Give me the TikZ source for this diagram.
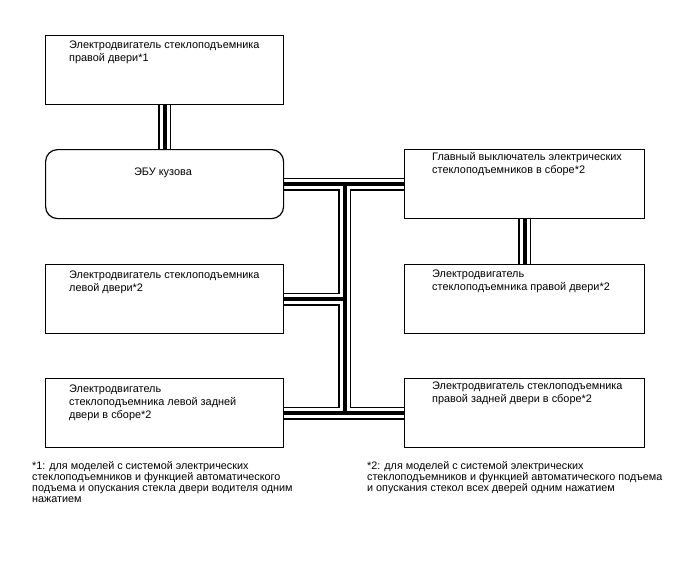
\documentclass[tikz,border=0pt]{standalone}
\usepackage{fontspec}
\setmainfont{Liberation Sans}
\usetikzlibrary{backgrounds}
\tikzset{
  box/.style={draw=black, line width=1.2pt, minimum width=238pt, minimum height=69pt, anchor=north west, inner sep=0pt},
  ecubox/.style={box, rounded corners=12pt},
  txt/.style={anchor=north west, align=left, inner sep=0pt, font=\fontsize{10.9}{13}\selectfont},
  ctxt/.style={anchor=base, inner sep=0pt, font=\fontsize{10.9}{13}\selectfont},
  fn/.style={anchor=north west, align=left, inner sep=0pt, font=\fontsize{10.8}{11.1}\selectfont},
  cableA/.style={draw=black, line width=13pt},
  cableB/.style={draw=white, line width=10pt},
  cableC/.style={draw=black, line width=4pt},
}
\newcommand{\cablenet}[1]{%
  \path[#1] (b1.south) -- (ecu.north);
  \path[#1] (main.south) -- (rdoor.north);
  \path[#1] (ecu.east) -- (main.west);
  \path[#1] (j1) -- (j2);
  \path[#1] (ldoor.east) -- (ldoor.east -| j1);
  \path[#1] (lrear.east) -- (rrear.west);
}
\begin{document}
\begin{tikzpicture}[x=1pt,y=-1pt]
\useasboundingbox (0,0) rectangle (688,560);
% boxes
\node[box] (b1) at (45,35) {};
\node[ecubox] (ecu) at (45,149) {};
\node[box] (ldoor) at (45,264) {};
\node[box] (lrear) at (45,378) {};
\node[box, minimum width=240pt] (main) at (404,149) {};
\node[box, minimum width=240pt] (rdoor) at (404,264) {};
\node[box, minimum width=240pt] (rrear) at (404,378) {};
\coordinate (j1) at (ecu.east -| 344.5,0);
\coordinate (j2) at (lrear.east -| 344.5,0);
% cables
\begin{scope}[on background layer]
\fill[white] (0,0) rectangle (688,560);
\cablenet{cableA}
\cablenet{cableB}
\cablenet{cableC}
\end{scope}
% texts
\node[txt] (t1) at (69,41) {Электродвигатель стеклоподъемника\\правой двери*1};
\node[ctxt] (t2) at (163,175) {ЭБУ кузова};
\node[txt] (t3) at (69,271) {Электродвигатель стеклоподъемника\\левой двери*2};
\node[txt] (t4) at (69,385) {Электродвигатель\\стеклоподъемника левой задней\\двери в сборе*2};
\node[txt] (t5) at (432,152) {Главный выключатель электрических\\стеклоподъемников в сборе*2};
\node[txt] (t6) at (432,270) {Электродвигатель\\стеклоподъемника правой двери*2};
\node[txt] (t7) at (432,382) {Электродвигатель стеклоподъемника\\правой задней двери в сборе*2};
\node[fn] (f1) at (32,461) {*1: для моделей с системой электрических\\стеклоподъемников и функцией автоматического\\подъема и опускания стекла двери водителя одним\\нажатием};
\node[fn] (f2) at (367,461) {*2: для моделей с системой электрических\\стеклоподъемников и функцией автоматического подъема\\и опускания стекол всех дверей одним нажатием};
\end{tikzpicture}
\end{document}
